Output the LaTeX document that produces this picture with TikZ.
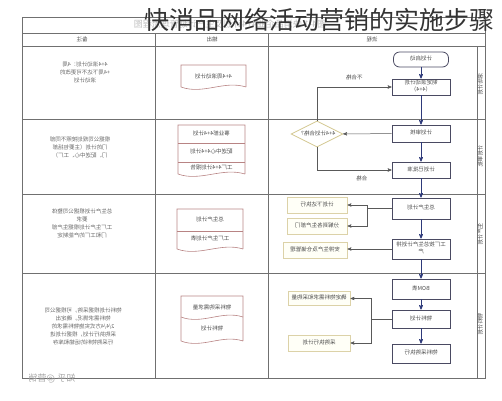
\documentclass[tikz,border=0pt]{standalone}
\usepackage{fontspec}
\usepackage{graphicx}
\setmainfont{Noto Sans CJK SC}
\usetikzlibrary{
  positioning,
  shapes.geometric,
  arrows
}
\definecolor{gridline}{HTML}{707070}
\definecolor{flowline}{HTML}{2E3A7A}
\definecolor{boxline}{HTML}{4A4A62}
\definecolor{sideline}{HTML}{DCD2A8}
\definecolor{docline}{HTML}{B88484}
\definecolor{diamline}{HTML}{D2C68E}
% mirrored text, as printed in the picture
\newcommand{\mtxt}[1]{\scalebox{-1}[1]{\begin{tabular}{@{}c@{}}#1\end{tabular}}}
\tikzset{
  >=stealth',
  every node/.style={font=\fontsize{5.5}{7}\selectfont, text=black!70, inner sep=1pt},
  grid/.style={draw=gridline, line width=0.8pt},
  flowbox/.style={draw=boxline, line width=0.8pt, minimum width=58pt, minimum height=18pt},
  terminal/.style={flowbox, rounded corners=6pt, minimum width=55pt, minimum height=15pt},
  sidebox/.style={draw=sideline, line width=1pt, fill=yellow!3, minimum width=60pt, minimum height=16pt},
  check/.style={diamond, draw=diamline, line width=0.8pt, aspect=2, minimum width=52pt, minimum height=26pt, inner sep=0pt},
  doc/.style={draw=docline, line width=0.6pt},
  flow/.style={->, draw=flowline, line width=0.7pt},
  branch/.style={->, draw=black!65, line width=0.5pt},
  note/.style={font=\fontsize{5.5}{8}\selectfont, text=black!60}
}
\begin{document}
\begin{tikzpicture}[x=1pt,y=-1pt]
  \useasboundingbox (0,0) rectangle (502,400);
  % table
  \draw[grid] (22,17) rectangle (485,378);
  \draw[grid] (22,33) -- (485,33);
  \draw[grid] (22,46) -- (485,46);
  \foreach \y in {119,194,273} \draw[grid] (22,\y) -- (485,\y);
  \foreach \x in {155,268} \draw[grid] (\x,33) -- (\x,378);
  \draw[grid] (477,46) -- (477,378);
  \node[text=black!25, font=\fontsize{9}{9}\selectfont] (sub) at (230,25) {\mtxt{图4-1 快消品企业4+4计划及生产计划管理流程图}};
  \node (h1) at (82,40) {\mtxt{备注}};
  \node (h2) at (212,40) {\mtxt{输出}};
  \node (h3) at (372,40) {\mtxt{流程}};
  % lane labels
  \node[rotate=90] (r1) at (481,84) {\mtxt{滚动计划}};
  \node[rotate=90] (r2) at (481,156) {\mtxt{计划审批}};
  \node[rotate=90] (r3) at (481,234) {\mtxt{生产计划}};
  \node[rotate=90] (r4) at (481,324) {\mtxt{物料计划}};
  % notes
  \node[note] (n1) at (85,73) {\mtxt{4+4滚动计划：4周\\+4周下达不可更改的\\滚动计划}};
  \node[note] (n2) at (80,148) {\mtxt{根据公司规划按照不同部\\门的计划（主要包括部\\门、配送中心、工厂）}};
  \node[note] (n3) at (82,224) {\mtxt{总生产计划根据公司整体\\要求\\工厂生产计划根据生产部\\门和工厂的产能制定}};
  \node[note] (n4) at (83,327) {\mtxt{物料计划根据采购，可根据公司\\物料需求情况，确定出\\2/4/4方式实施物料需求的\\采购执行计划，根据计划进\\行采购物料的运输和库存}};
  % outputs
  \draw[doc] (246,87) -- (246,65) -- (181,65) -- (181,87)
    .. controls (203,95) and (224,80) .. (246,87);
  \node (d1) at (213.5,77) {\mtxt{4+4周滚动计划}};
  \draw[doc] (245,174) -- (245,125) -- (178,125) -- (178,174)
    .. controls (200,182) and (222,167) .. (245,174);
  \draw[doc] (178,143) -- (245,143);
  \draw[doc] (178,162) -- (245,162);
  \node (d2a) at (211.5,134) {\mtxt{事业部4+4计划}};
  \node (d2b) at (211.5,152.5) {\mtxt{配送中心4+4计划}};
  \node (d2c) at (211.5,168) {\mtxt{工厂4+4计划报告}};
  \draw[doc] (243,249) -- (243,209) -- (177,209) -- (177,249)
    .. controls (199,257) and (221,242) .. (243,249);
  \draw[doc] (177,231) -- (243,231);
  \node (d3a) at (210,220) {\mtxt{总生产计划}};
  \node (d3b) at (210,239) {\mtxt{工厂生产计划表}};
  \draw[doc] (243,341) -- (243,296) -- (181,296) -- (181,341)
    .. controls (202,349) and (222,334) .. (243,341);
  \draw[doc] (181,317) .. controls (202,325) and (222,310) .. (243,317);
  \node (d4a) at (212,308) {\mtxt{物料采购需求量}};
  \node (d4b) at (212,329) {\mtxt{物料计划}};
  % flow
  \node[terminal] (start) at (421,59.5) {\mtxt{计划启动}};
  \node[flowbox, minimum height=16pt] (b1) at (421,87) {\mtxt{制定滚动计划\\（4+4）}};
  \node[flowbox, minimum height=17pt] (b2) at (421,133.5) {\mtxt{计划审核}};
  \node[flowbox, minimum height=16pt] (b3) at (421,170) {\mtxt{计划已批准}};
  \node[check] (ok) at (317,134) {\mtxt{4+4计划合格？}};
  \node[flowbox, minimum height=21pt] (b4) at (421,208.5) {\mtxt{总生产计划}};
  \node[flowbox, minimum height=20pt] (b5) at (421,249) {\mtxt{工厂按总生产计划排\\产}};
  \node[flowbox, minimum height=20pt] (b6) at (421,289) {\mtxt{BOM表}};
  \node[flowbox, minimum height=18pt] (b7) at (421,319) {\mtxt{物料计划}};
  \node[flowbox, minimum height=19pt] (b8) at (421,353.5) {\mtxt{物料采购执行}};
  \node[sidebox] (l1) at (317,205) {\mtxt{计划下达执行}};
  \node[sidebox] (l2) at (317,226) {\mtxt{分解到各生产部门}};
  \node[sidebox, minimum width=64pt] (l3) at (315,250) {\mtxt{安排生产及仓储管理}};
  \node[sidebox, minimum width=62pt, minimum height=14pt] (l4) at (319,298.5) {\mtxt{确定物料需求和采购量}};
  \node[sidebox, minimum width=62pt] (l5) at (319,343) {\mtxt{采购执行计划}};
  \draw[flow] (start) -- (b1);
  \draw[flow] (b1) -- (b2);
  \draw[flow] (b2) -- (b3);
  \draw[branch] (b2) -- (ok);
  \draw[branch] (ok.north) |- (b1.west) node[pos=0.75, above=4pt] (no) {\mtxt{不合格}};
  \draw[branch] (ok.south) |- (b3.west) node[pos=0.8, below=4pt] (yes) {\mtxt{合格}};
  \draw[flow] (b3) -- (b4);
  \draw[flow] (b4) -- (b5);
  \draw[flow] (b5) -- (b6);
  \draw[flow] (b6) -- (b7);
  \draw[flow] (b7) -- (b8);
  \draw[branch] (b4.west) -- ++(-24,0) |- (l1.east);
  \draw[branch] (b4.west) -- ++(-24,0) |- (l2.east);
  \draw[branch] (b5.west) -- (b5.west -| l3.east);
  \draw[branch] (b7.west) -- ++(-20,0) |- (l4.east);
  \draw[branch] (b7.west) -- ++(-20,0) |- (l5.east);
  % overlay
  \node[text=black!80, font=\fontsize{25}{25}\selectfont, inner sep=0pt] (title) at (319,20) {快消品网络活动营销的实施步骤};
  \node[text=black!35, font=\fontsize{9}{9}\selectfont] (mark) at (52,379) {\mtxt{知乎 @营销}};
\end{tikzpicture}
\end{document}
